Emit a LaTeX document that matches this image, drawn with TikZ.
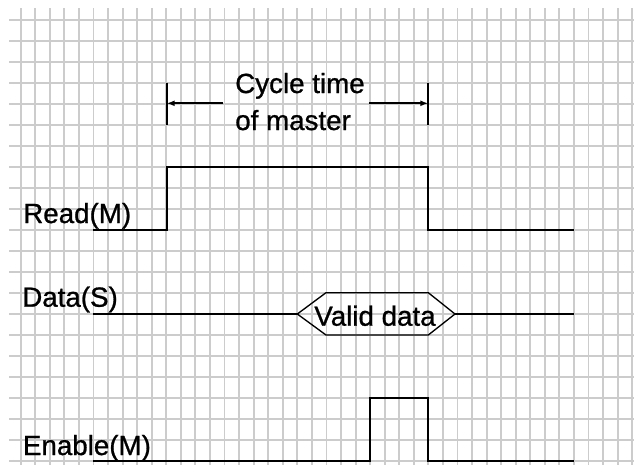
\documentclass[tikz,border=0pt]{standalone}
\usepackage{fontspec}
\setmainfont{Liberation Sans}
\newfontfamily\lblfont[FakeBold=0.9]{Liberation Sans}
\usepackage{xcolor}
\usetikzlibrary{arrows.meta,calc}
\definecolor{gridgray}{RGB}{204,204,204}
\definecolor{sigblack}{RGB}{0,0,0}

\begin{document}
\begin{tikzpicture}[x=0.75pt,y=-0.75pt,>={Latex[length=6pt,width=4.5pt]},
  lbl/.style={font=\lblfont\fontsize{20.8}{24}\selectfont,inner sep=0pt,anchor=base west},
  sig/.style={sigblack,line width=1.3pt,line join=miter}]
  \useasboundingbox (0,0) rectangle (634,465);

  % squared paper
  \foreach \k in {0,...,42}
    \draw[gridgray,line width=1.4pt] ({20.7+14.56*\k},8) -- ({20.7+14.56*\k},465);
  \foreach \k in {0,...,21}
    \draw[gridgray,line width=1.4pt] (9,{20+21*\k}) -- (634,{20+21*\k});

  % cycle time of master
  \node[lbl] (cycA) at (235,93) {Cycle time};
  \node[lbl] (cycB) at (235,130) {of master};
  \coordinate (tickL) at (166.7,103.3);
  \coordinate (tickR) at (428.3,103.3);
  \draw[sig] ($(tickL)+(0,-20.6)$) -- ($(tickL)+(0,21.7)$);
  \draw[sig] ($(tickR)+(0,-20.6)$) -- ($(tickR)+(0,21.7)$);
  \draw[sig,->] ($(cycA.west |- tickL)+(-12,0)$) -- (tickL);
  \draw[sig,->] ($(cycA.east |- tickR)+(4,0)$) -- (tickR);

  % Read(M)
  \node[lbl] (rd) at (23,223) {Read(M)};
  \draw[sig] (93,230) -- (166.7,230) -- (166.7,167.3) -- (428.3,167.3)
    -- (428.3,230) -- (574,230);

  % Data(S)
  \node[lbl] (dt) at (22,306.7) {Data(S)};
  \node[lbl,anchor=base] (vd) at (375,325.7) {Valid data};
  \coordinate (vdL) at (297.3,314);
  \coordinate (vdR) at (455,314);
  \draw[sig] (93,314) -- (vdL);
  \draw[sig,line width=1pt] (vdL) -- (326,292.7) -- (428.3,292.7) -- (vdR)
    -- (428.3,335) -- (326,335) -- cycle;
  \draw[sig] (vdR) -- (574,314);

  % Enable(M)
  \node[lbl] (en) at (22.7,455) {Enable(M)};
  \draw[sig] (93,461) -- (370,461) -- (370,398.3) -- (428.3,398.3)
    -- (428.3,461) -- (574,461);
\end{tikzpicture}
\end{document}
